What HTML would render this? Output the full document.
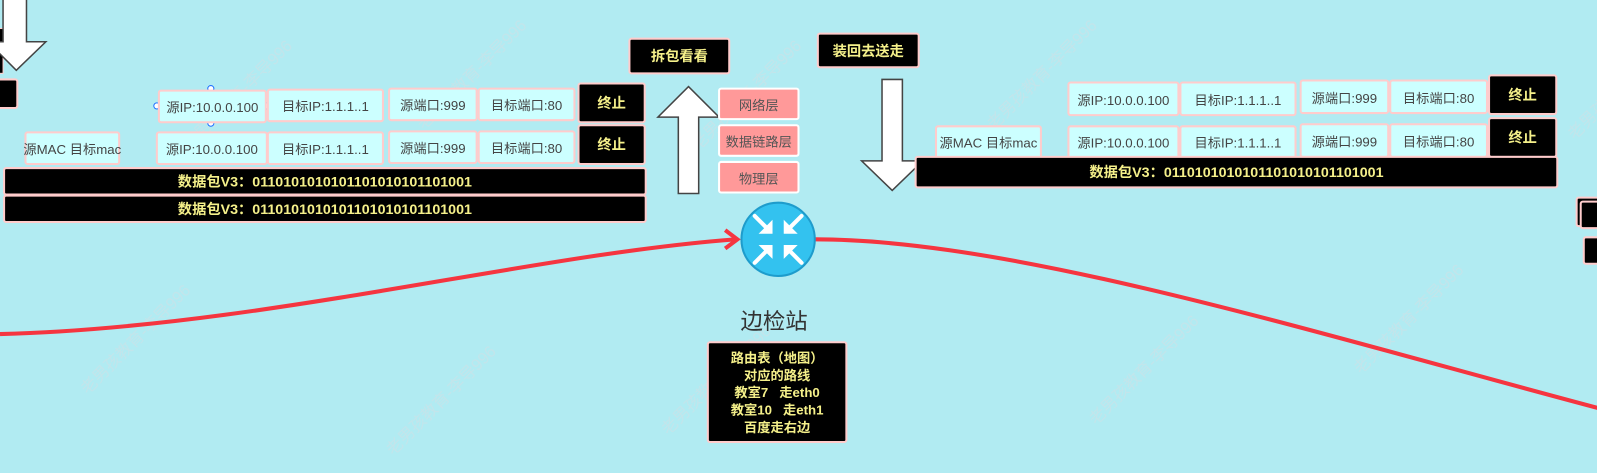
<!DOCTYPE html>
<html><head><meta charset="utf-8"><style>
body{margin:0;width:1597px;height:464px;overflow:hidden;background:#b1ebf2;position:relative;font-family:"Liberation Sans","Noto Sans CJK SC",sans-serif}
#r{position:absolute;left:0;top:0;width:1568px;height:456px;transform:scale(1.0185);transform-origin:0 0}
.c{position:absolute;background:#ccffff;border:2px solid #ffcccc;border-radius:3px;box-sizing:border-box;color:#444;font-size:13px;display:flex;align-items:center;justify-content:center;white-space:nowrap}
.k{position:absolute;background:#000;border:2px solid #ffcccc;border-radius:3px;box-sizing:border-box;color:#f5f08a;font-weight:bold;font-size:14px;display:flex;align-items:center;justify-content:center;white-space:nowrap}
.p{position:absolute;background:#ff9999;border:2px solid #fff;border-radius:3px;box-sizing:border-box;color:#555;font-size:13px;display:flex;align-items:center;justify-content:center}
.w{position:absolute;color:#c2e5eb;font-size:16px;transform:rotate(-45deg);white-space:nowrap}
svg{position:absolute;left:0;top:0}
</style></head><body><div id="r">
<div class="w" style="left:160px;top:80px">老男孩教育-李导996</div>
<div class="w" style="left:390px;top:60px">老男孩教育-李导996</div>
<div class="w" style="left:60px;top:320px">老男孩教育-李导996</div>
<div class="w" style="left:360px;top:380px">老男孩教育-李导996</div>
<div class="w" style="left:660px;top:80px">老男孩教育-李导996</div>
<div class="w" style="left:950px;top:60px">老男孩教育-李导996</div>
<div class="w" style="left:1050px;top:350px">老男孩教育-李导996</div>
<div class="w" style="left:1310px;top:300px">老男孩教育-李导996</div>
<div class="w" style="left:1520px;top:70px">老男孩教育-李导996</div>
<div class="w" style="left:630px;top:360px">老男孩教育-李导996</div>

<svg width="1597" height="464">
<path d="M0,328 C250,322 520,250 722,235" fill="none" stroke="#f53540" stroke-width="4"/>
<path d="M712,226 L724,235 L712,244" fill="none" stroke="#f53540" stroke-width="4"/>
<path d="M800,235 C1000,235 1300,330 1597,408" fill="none" stroke="#f53540" stroke-width="4"/>
<rect x="-3" y="28" width="6" height="44" fill="#000" stroke="#ffcccc"/>
<polygon points="3,-2 26,-2 26,41 45,41 16,69 -12,41 3,41" fill="#fff" stroke="#444" stroke-width="1.5"/>
<polygon points="666,190 686,190 686,115 706,115 676,85 646,115 666,115" fill="#fff" stroke="#444" stroke-width="1.5"/>
<polygon points="866,78 886,78 886,158 906,158 876,187 846,158 866,158" fill="#fff" stroke="#444" stroke-width="1.5"/>
<circle cx="764" cy="235" r="36" fill="#33c2ef" stroke="#1e9ccc" stroke-width="2"/>
<g fill="#fff" stroke="#fff" stroke-width="4" stroke-linecap="round">
<line x1="741" y1="212" x2="752" y2="223"/>
<polygon points="758,229 746,229 758,217" stroke-width="1"/>
<line x1="787" y1="212" x2="776" y2="223"/>
<polygon points="770,229 770,217 782,229" stroke-width="1"/>
<line x1="741" y1="258" x2="752" y2="247"/>
<polygon points="758,241 746,241 758,253" stroke-width="1"/>
<line x1="787" y1="258" x2="776" y2="247"/>
<polygon points="770,241 782,241 770,253" stroke-width="1"/>
</g>
<text x="760" y="323" text-anchor="middle" font-size="22" fill="#333" font-family="Liberation Sans,Noto Sans CJK SC,sans-serif">边检站</text>
<circle cx="207" cy="87" r="3" fill="#fff" stroke="#1e6fff"/>
<circle cx="207" cy="121" r="3" fill="#fff" stroke="#1e6fff"/>
<circle cx="154" cy="104" r="3" fill="#fff" stroke="#1e6fff"/>
<circle cx="262" cy="104" r="3" fill="#fff" stroke="#1e6fff"/>
</svg>

<div class="k" style="left:-4px;top:77px;width:22px;height:30px"></div>

<div class="c" style="left:155px;top:88px;width:107px;height:33px">源IP:10.0.0.100</div>
<div class="c" style="left:262px;top:87px;width:115px;height:33px">目标IP:1.1.1..1</div>
<div class="c" style="left:381px;top:86px;width:88px;height:33px">源端口:999</div>
<div class="c" style="left:469px;top:86px;width:96px;height:33px">目标端口:80</div>
<div class="k" style="left:567px;top:81px;width:67px;height:40px">终止</div>
<div class="c" style="left:24px;top:129px;width:94px;height:33px">源MAC 目标mac</div>
<div class="c" style="left:153px;top:129px;width:110px;height:33px">源IP:10.0.0.100</div>
<div class="c" style="left:262px;top:129px;width:115px;height:33px">目标IP:1.1.1..1</div>
<div class="c" style="left:381px;top:128px;width:88px;height:33px">源端口:999</div>
<div class="c" style="left:469px;top:128px;width:96px;height:33px">目标端口:80</div>
<div class="k" style="left:567px;top:122px;width:67px;height:40px">终止</div>
<div class="k" style="left:3px;top:164px;width:632px;height:28px">数据包V3：0110101010101101010101101001</div>
<div class="k" style="left:3px;top:191px;width:632px;height:28px">数据包V3：0110101010101101010101101001</div>

<div class="k" style="left:617px;top:37px;width:100px;height:36px">拆包看看</div>
<div class="k" style="left:802px;top:32px;width:101px;height:35px">装回去送走</div>
<div class="p" style="left:705px;top:86px;width:80px;height:32px">网络层</div>
<div class="p" style="left:705px;top:122px;width:80px;height:32px">数据链路层</div>
<div class="p" style="left:705px;top:158px;width:80px;height:32px">物理层</div>

<div class="k" style="left:694px;top:335px;width:138px;height:100px;flex-direction:column;font-size:13px;line-height:17px">路由表（地图）<br><span>对应的路线</span><span>教室7&nbsp;&nbsp;&nbsp;走eth0</span><span>教室10&nbsp;&nbsp;&nbsp;走eth1</span><span>百度走右边</span></div>

<div class="c" style="left:1048px;top:80px;width:110px;height:34px">源IP:10.0.0.100</div>
<div class="c" style="left:1158px;top:80px;width:115px;height:34px">目标IP:1.1.1..1</div>
<div class="c" style="left:1276px;top:78px;width:88px;height:34px">源端口:999</div>
<div class="c" style="left:1364px;top:78px;width:97px;height:34px">目标端口:80</div>
<div class="k" style="left:1461px;top:73px;width:68px;height:40px">终止</div>
<div class="c" style="left:918px;top:123px;width:105px;height:33px">源MAC 目标mac</div>
<div class="c" style="left:1048px;top:123px;width:110px;height:33px">源IP:10.0.0.100</div>
<div class="c" style="left:1158px;top:123px;width:115px;height:33px">目标IP:1.1.1..1</div>
<div class="c" style="left:1276px;top:121px;width:88px;height:34px">源端口:999</div>
<div class="c" style="left:1364px;top:121px;width:97px;height:34px">目标端口:80</div>
<div class="k" style="left:1461px;top:115px;width:68px;height:40px">终止</div>
<div class="k" style="left:898px;top:153px;width:632px;height:32px">数据包V3：0110101010101101010101101001</div>

<div class="k" style="left:1547px;top:193px;width:60px;height:30px"></div>
<div class="k" style="left:1551px;top:197px;width:60px;height:28px"></div>
<div class="k" style="left:1554px;top:232px;width:60px;height:28px"></div>
</div></body></html>
